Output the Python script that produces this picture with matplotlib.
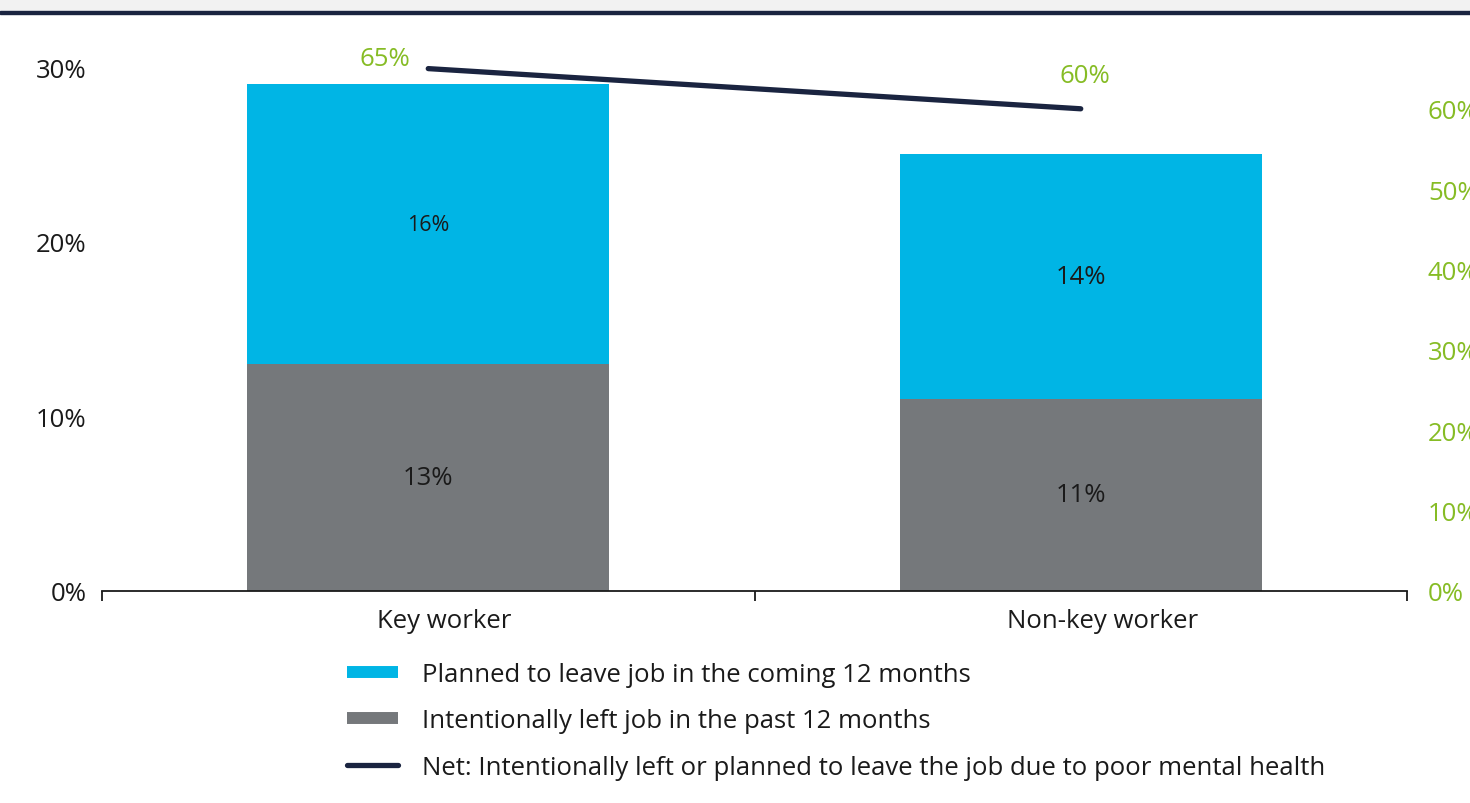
import matplotlib.pyplot as plt
from matplotlib.lines import Line2D
from matplotlib.patches import Rectangle

plt.rcParams['font.family'] = ['Open Sans', 'DejaVu Sans']

categories = ["Key worker", "Non-key worker"]
left_past = [13, 11]        # Intentionally left job in the past 12 months
planned = [16, 14]          # Planned to leave job in the coming 12 months
net = [65, 60]              # Net, right axis
left_ticks = [0, 10, 20, 30]
right_ticks = [0, 10, 20, 30, 40, 50, 60]

blue = "#00b5e5"
grey = "#75787b"
navy = "#1a2440"
green = "#86bc25"
ink = "#1a1a1a"
FS = 18.5

fig = plt.figure(figsize=(14.7, 8.04), dpi=100)
H = 804.0

# header band
fig.patches.append(Rectangle((0, 1 - 11.5 / H), 1, 11.5 / H, transform=fig.transFigure,
                             color="#f2f2f2", zorder=0))
fig.patches.append(Rectangle((0, 1 - 14.5 / H), 1, 3 / H, transform=fig.transFigure,
                             color=navy, zorder=1))

ax = fig.add_axes([102 / 1470, 1 - 592 / H, (1407 - 102) / 1470, (592 - 68) / H])
x = list(range(len(categories)))
w = 0.555
ax.bar(x, left_past, w, color=grey, zorder=2)
ax.bar(x, planned, w, bottom=left_past, color=blue, zorder=2)

for i in x:
    ax.text(i, left_past[i] / 2, f"{left_past[i]}%", ha="center", va="center",
            fontsize=FS, color=ink)
    fs = 15.5 if i == 0 else FS
    ax.text(i, left_past[i] + planned[i] / 2, f"{planned[i]}%", ha="center",
            va="center", fontsize=fs, color=ink)

ax.set_xlim(-0.5, 1.5)
ax.set_ylim(0, 30)
ax.set_yticks(left_ticks)
ax.set_yticklabels([f"{t}%" for t in left_ticks], fontsize=FS, color=ink)
ax.tick_params(axis="y", length=0, pad=11)
ax.set_xticks([-0.5, 0.5, 1.5], minor=False)
ax.set_xticklabels(["", "", ""])
ax.tick_params(axis="x", length=7, width=1.3, color=ink)
# category labels sit a little right of the bar centres in the original
ax.set_xticks([0.024, 1.034], minor=True)
ax.set_xticklabels(categories, minor=True, fontsize=FS, color=ink)
ax.tick_params(axis="x", which="minor", length=0, pad=12)
for s in ["top", "right", "left"]:
    ax.spines[s].set_visible(False)
ax.spines["bottom"].set_linewidth(1.3)
ax.spines["bottom"].set_color(ink)

ax2 = ax.twinx()
ax2.plot(x, net, color=navy, lw=3.8, solid_capstyle="round", zorder=3, clip_on=False)
ax2.set_ylim(0, 65.2)
ax2.set_yticks(right_ticks)
ax2.set_yticklabels([f"{t}%" for t in right_ticks], fontsize=FS, color=green)
ax2.tick_params(axis="y", length=0, pad=15)
for s in ["top", "right", "left", "bottom"]:
    ax2.spines[s].set_visible(False)
ax2.text(x[0] - 0.067, 66.3, f"{net[0]}%", ha="center", va="center",
         fontsize=FS, color=green)
ax2.text(x[1] + 0.006, 64.2, f"{net[1]}%", ha="center", va="center",
         fontsize=FS, color=green)

handles = [
    Line2D([], [], color=blue, lw=8.6, solid_capstyle="butt"),
    Line2D([], [], color=grey, lw=8.6, solid_capstyle="butt"),
    Line2D([], [], color=navy, lw=3.8, solid_capstyle="round"),
]
labels = [
    "Planned to leave job in the coming 12 months",
    "Intentionally left job in the past 12 months",
    "Net: Intentionally left or planned to leave the job due to poor mental health",
]
fig.legend(handles, labels, loc="upper left", bbox_to_anchor=(329 / 1470, 1 - 645 / H),
           frameon=False, fontsize=FS, handlelength=2.0, handletextpad=0.9,
           labelspacing=0.83, labelcolor=ink, borderpad=0.2)

fig.savefig("out.png", dpi=100)
